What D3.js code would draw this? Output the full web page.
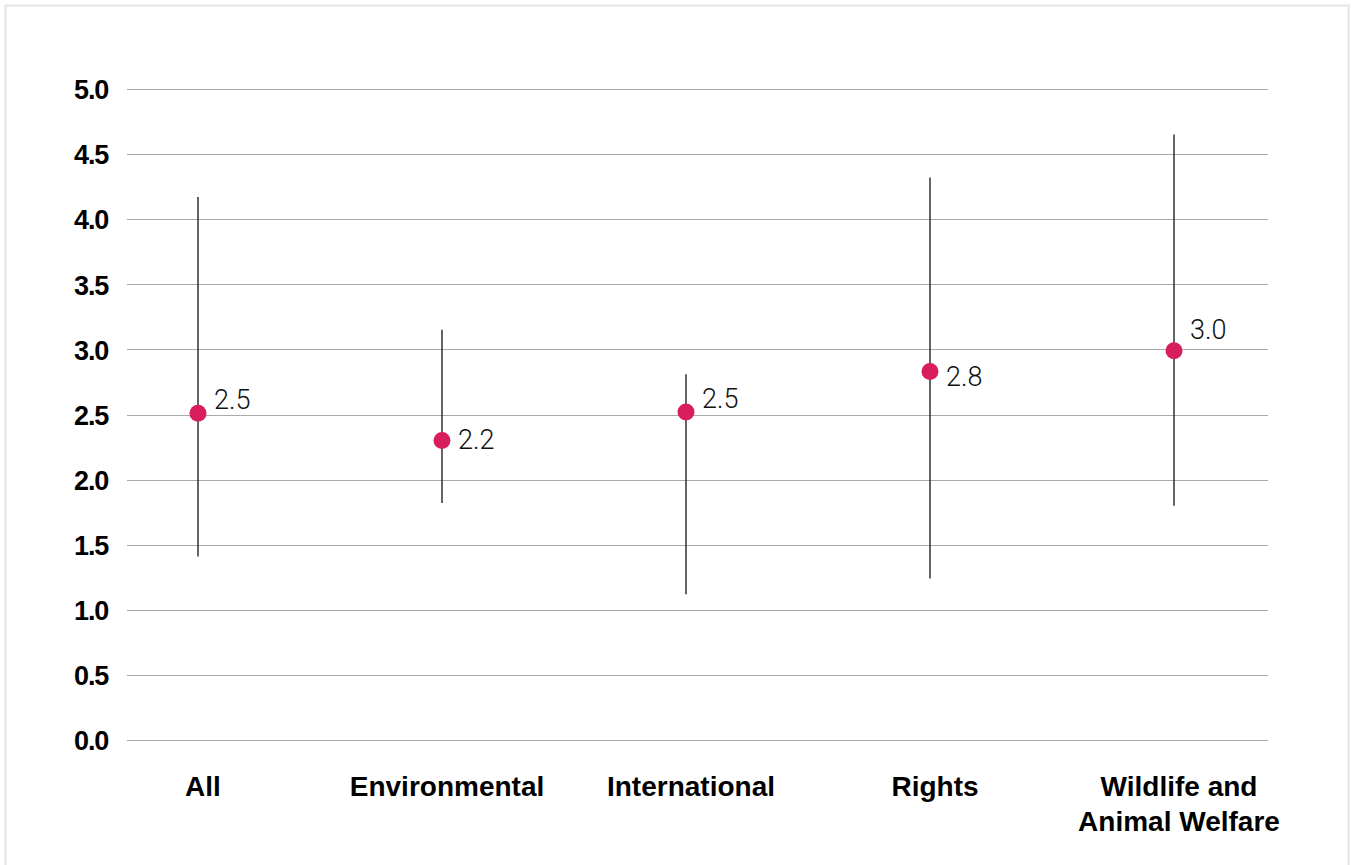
<!DOCTYPE html>
<html>
<head>
<meta charset="utf-8">
<script src="https://cdn.jsdelivr.net/npm/d3@7"></script>
<style>
  html, body { margin: 0; padding: 0; background: #fff; }
  svg { display: block; }
</style>
</head>
<body>
<script>
// ---- data ----
const categories = ["All", "Environmental", "International", "Rights", "Wildlife and\nAnimal Welfare"];
const means      = [2.51, 2.30, 2.52, 2.83, 2.99];
const lows       = [1.41, 1.82, 1.12, 1.24, 1.80];
const highs      = [4.17, 3.15, 2.81, 4.32, 4.65];
const valueLabels = ["2.5", "2.2", "2.5", "2.8", "3.0"];
const yTicks = [0, 0.5, 1, 1.5, 2, 2.5, 3, 3.5, 4, 4.5, 5];
// label baseline offsets relative to the dot (styling)
const labelDy = [-4, 8, -4, 14, -12];

const W = 1351, H = 865;
const svg = d3.select("body").append("svg").attr("width", W).attr("height", H);

// frame
svg.append("rect").attr("x", 5.5).attr("y", 5.5).attr("width", 1343).attr("height", 880)
  .attr("fill", "none").attr("stroke", "#e4e4e4").attr("stroke-width", 2);

const x = d3.scaleBand().domain(categories).range([76, 1296]);
const y = d3.scaleLinear().domain([0, 5]).range([740, 89]);

// grid + y labels
const yAxis = d3.axisLeft(y).tickValues(yTicks).tickFormat(d3.format(".1f")).tickSize(0).tickPadding(0);
const gy = svg.append("g").attr("transform", "translate(108,0)").call(yAxis);
gy.select(".domain").remove();
gy.selectAll("text")
  .attr("font-family", "'Liberation Sans', Arial, sans-serif")
  .attr("font-weight", "bold").attr("font-size", 27).attr("fill", "#000")
  .attr("letter-spacing", -1.2).attr("dy", "0.36em");

svg.append("g").selectAll("line").data(yTicks).join("line")
  .attr("x1", 127).attr("x2", 1268)
  .attr("y1", d => Math.round(y(d)) + 0.5).attr("y2", d => Math.round(y(d)) + 0.5)
  .attr("stroke", "#ababab").attr("stroke-width", 1);

// x labels
const xl = svg.append("g");
categories.forEach((c, i) => {
  const lx = x(c) + x.bandwidth() / 2 + 5;
  const t = xl.append("text")
    .attr("x", lx).attr("y", 796)
    .attr("text-anchor", "middle")
    .attr("font-family", "'Liberation Sans', Arial, sans-serif")
    .attr("font-weight", "bold").attr("font-size", 28).attr("fill", "#000");
  c.split("\n").forEach((ln, j) => {
    t.append("tspan").attr("x", lx).attr("dy", j === 0 ? 0 : 35).text(ln);
  });
});

// whiskers
const cx = i => x(categories[i]) + x.bandwidth() / 2;
svg.append("g").selectAll("line").data(categories).join("line")
  .attr("x1", (d, i) => cx(i)).attr("x2", (d, i) => cx(i))
  .attr("y1", (d, i) => y(lows[i])).attr("y2", (d, i) => y(highs[i]))
  .attr("stroke", "#111").attr("stroke-width", 1.3);

// dots
svg.append("g").selectAll("circle").data(categories).join("circle")
  .attr("cx", (d, i) => cx(i)).attr("cy", (d, i) => y(means[i]))
  .attr("r", 8.5).attr("fill", "#d81e5b");

// value labels
svg.append("g").selectAll("text").data(categories).join("text")
  .attr("x", (d, i) => cx(i) + 16).attr("y", (d, i) => y(means[i]) + labelDy[i])
  .attr("font-family", "Roboto, 'Liberation Sans', sans-serif")
  .attr("font-weight", 300).attr("font-size", 27).attr("fill", "#111")
  .text((d, i) => valueLabels[i]);
</script>
</body>
</html>
